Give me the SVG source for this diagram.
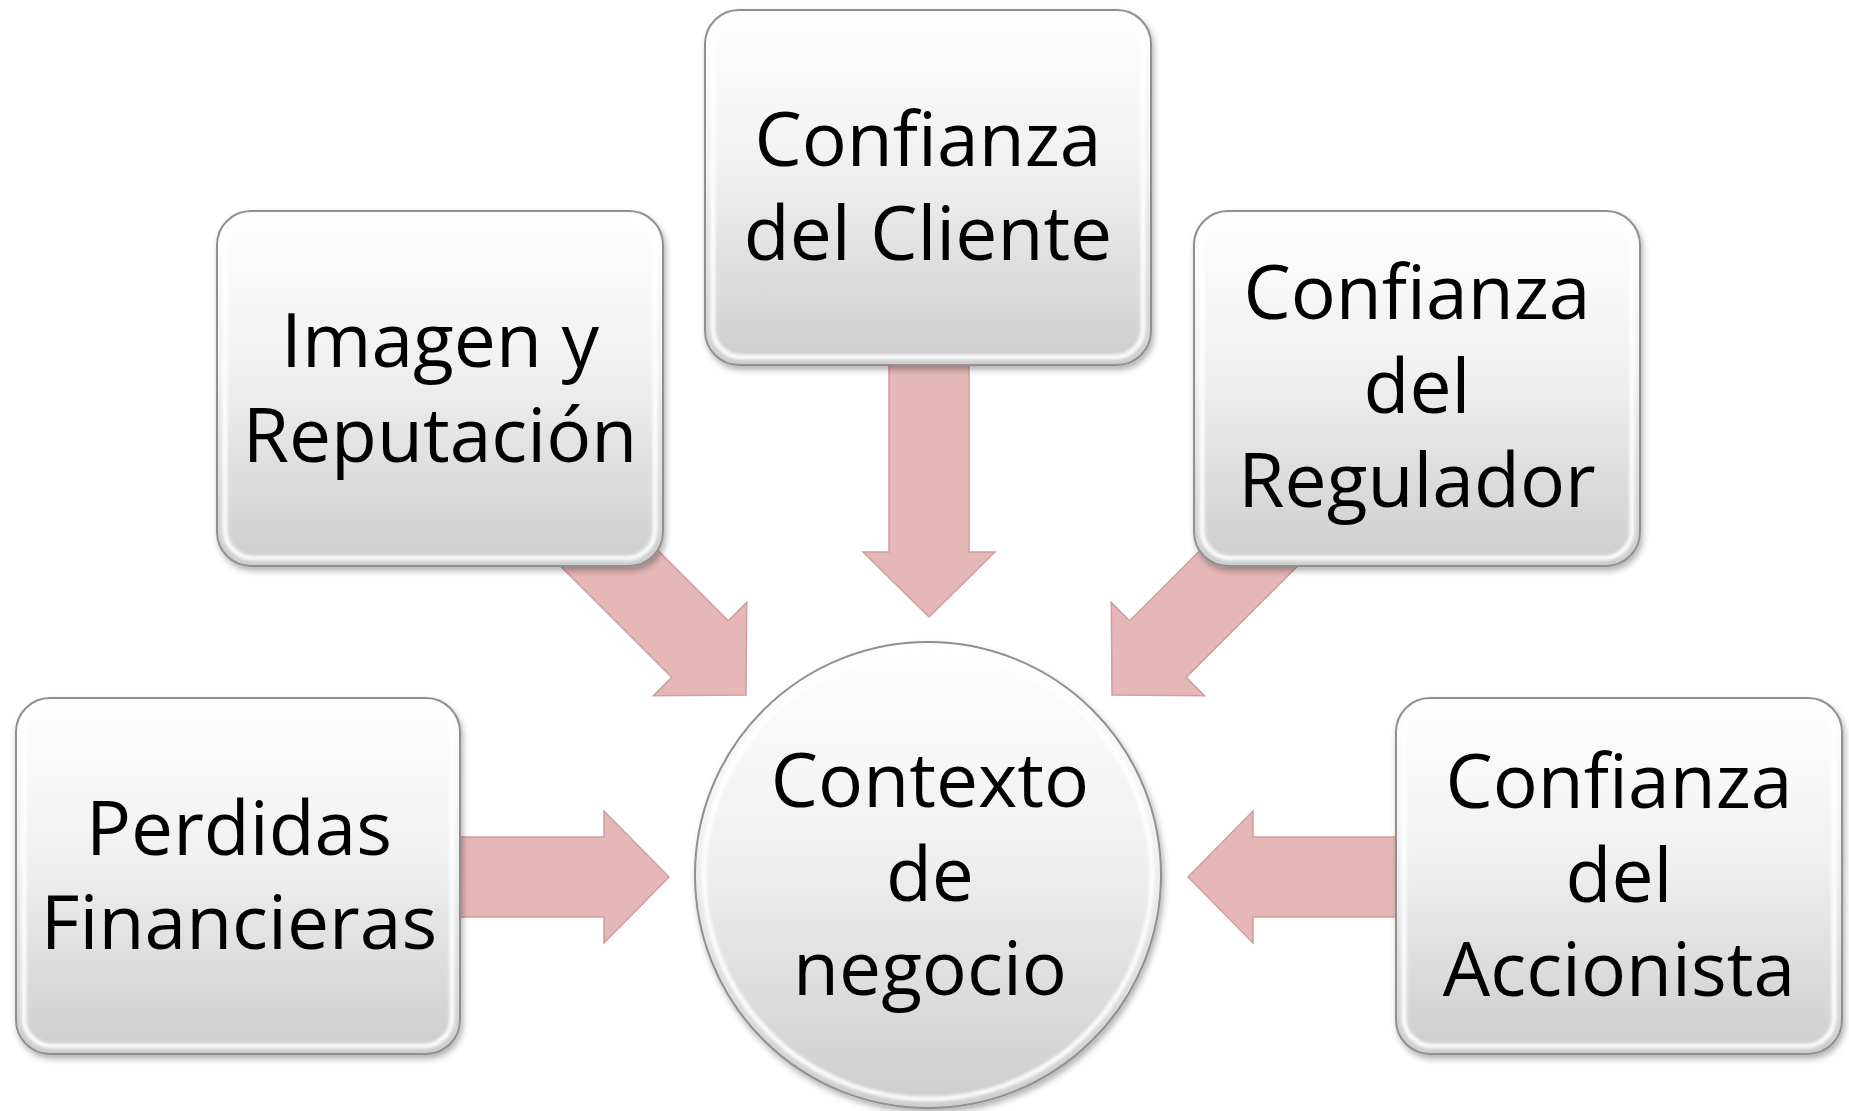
<svg xmlns="http://www.w3.org/2000/svg" xmlns:xlink="http://www.w3.org/1999/xlink" width="1849" height="1111" viewBox="0 0 1849 1111">
<style>
.lbl{font-family:"Open Sans","Liberation Sans",sans-serif;font-size:75px;fill:#000;text-anchor:middle}
.face{fill:url(#face);stroke:#909090;stroke-width:2}
.bevel{fill:none;stroke:#ffffff;stroke-width:5;stroke-opacity:0.9}
.arrow{fill:#e5b8b7;stroke:#cf9d9c;stroke-width:1.5;stroke-linejoin:miter}
</style>
<defs>
<linearGradient id="face" x1="0" y1="0" x2="0" y2="1">
<stop offset="0" stop-color="#ffffff"/>
<stop offset="0.45" stop-color="#f0f0f0"/>
<stop offset="1" stop-color="#cdcdcd"/>
</linearGradient>
<filter id="shadow" x="-10%" y="-10%" width="120%" height="125%">
<feDropShadow dx="2" dy="4" stdDeviation="3" flood-color="#000" flood-opacity="0.3"/>
</filter>
<filter id="soft" x="-5%" y="-5%" width="110%" height="110%">
<feGaussianBlur stdDeviation="1.8"/>
</filter>
<path id="arr" d="M0,0 L-65,-66 L-65,-40 L-300,-40 L-300,40 L-65,40 L-65,66 Z"/>
</defs>
<rect width="1849" height="1111" fill="#ffffff"/>
<g id="connectors">
<use xlink:href="#arr" class="arrow" transform="translate(669,877)"/>
<use xlink:href="#arr" class="arrow" transform="translate(1188,877) rotate(180)"/>
<use xlink:href="#arr" class="arrow" transform="translate(929,617) rotate(90)"/>
<use xlink:href="#arr" class="arrow" transform="translate(746,695) rotate(45)"/>
<use xlink:href="#arr" class="arrow" transform="translate(1112,695) rotate(135)"/>
</g>
<g id="node-perdidas">
<rect class="face" x="16" y="698" width="444" height="356" rx="34" filter="url(#shadow)"/>
<rect class="bevel" x="24" y="706" width="428" height="340" rx="28" filter="url(#soft)"/>
<text class="lbl" x="239" y="855">Perdidas</text>
<text class="lbl" x="239" y="949">Financieras</text>
</g>
<g id="node-imagen">
<rect class="face" x="217" y="211" width="446" height="355" rx="34" filter="url(#shadow)"/>
<rect class="bevel" x="225" y="219" width="430" height="339" rx="28" filter="url(#soft)"/>
<text class="lbl" x="440" y="367">Imagen y</text>
<text class="lbl" x="440" y="462">Reputación</text>
</g>
<g id="node-cliente">
<rect class="face" x="705" y="10" width="446" height="355" rx="34" filter="url(#shadow)"/>
<rect class="bevel" x="713" y="18" width="430" height="339" rx="28" filter="url(#soft)"/>
<text class="lbl" x="928" y="166">Confianza</text>
<text class="lbl" x="928" y="260">del Cliente</text>
</g>
<g id="node-regulador">
<rect class="face" x="1194" y="211" width="446" height="355" rx="34" filter="url(#shadow)"/>
<rect class="bevel" x="1202" y="219" width="430" height="339" rx="28" filter="url(#soft)"/>
<text class="lbl" x="1417" y="319">Confianza</text>
<text class="lbl" x="1417" y="413">del</text>
<text class="lbl" x="1417" y="507">Regulador</text>
</g>
<g id="node-accionista">
<rect class="face" x="1396" y="698" width="446" height="356" rx="34" filter="url(#shadow)"/>
<rect class="bevel" x="1404" y="706" width="430" height="340" rx="28" filter="url(#soft)"/>
<text class="lbl" x="1619" y="808">Confianza</text>
<text class="lbl" x="1619" y="902">del</text>
<text class="lbl" x="1619" y="996">Accionista</text>
</g>
<g id="node-contexto">
<circle class="face" cx="928" cy="875" r="233" filter="url(#shadow)"/>
<circle class="bevel" cx="928" cy="875" r="224" filter="url(#soft)"/>
<text class="lbl" x="930" y="807">Contexto</text>
<text class="lbl" x="930" y="901">de</text>
<text class="lbl" x="930" y="995">negocio</text>
</g>
</svg>
